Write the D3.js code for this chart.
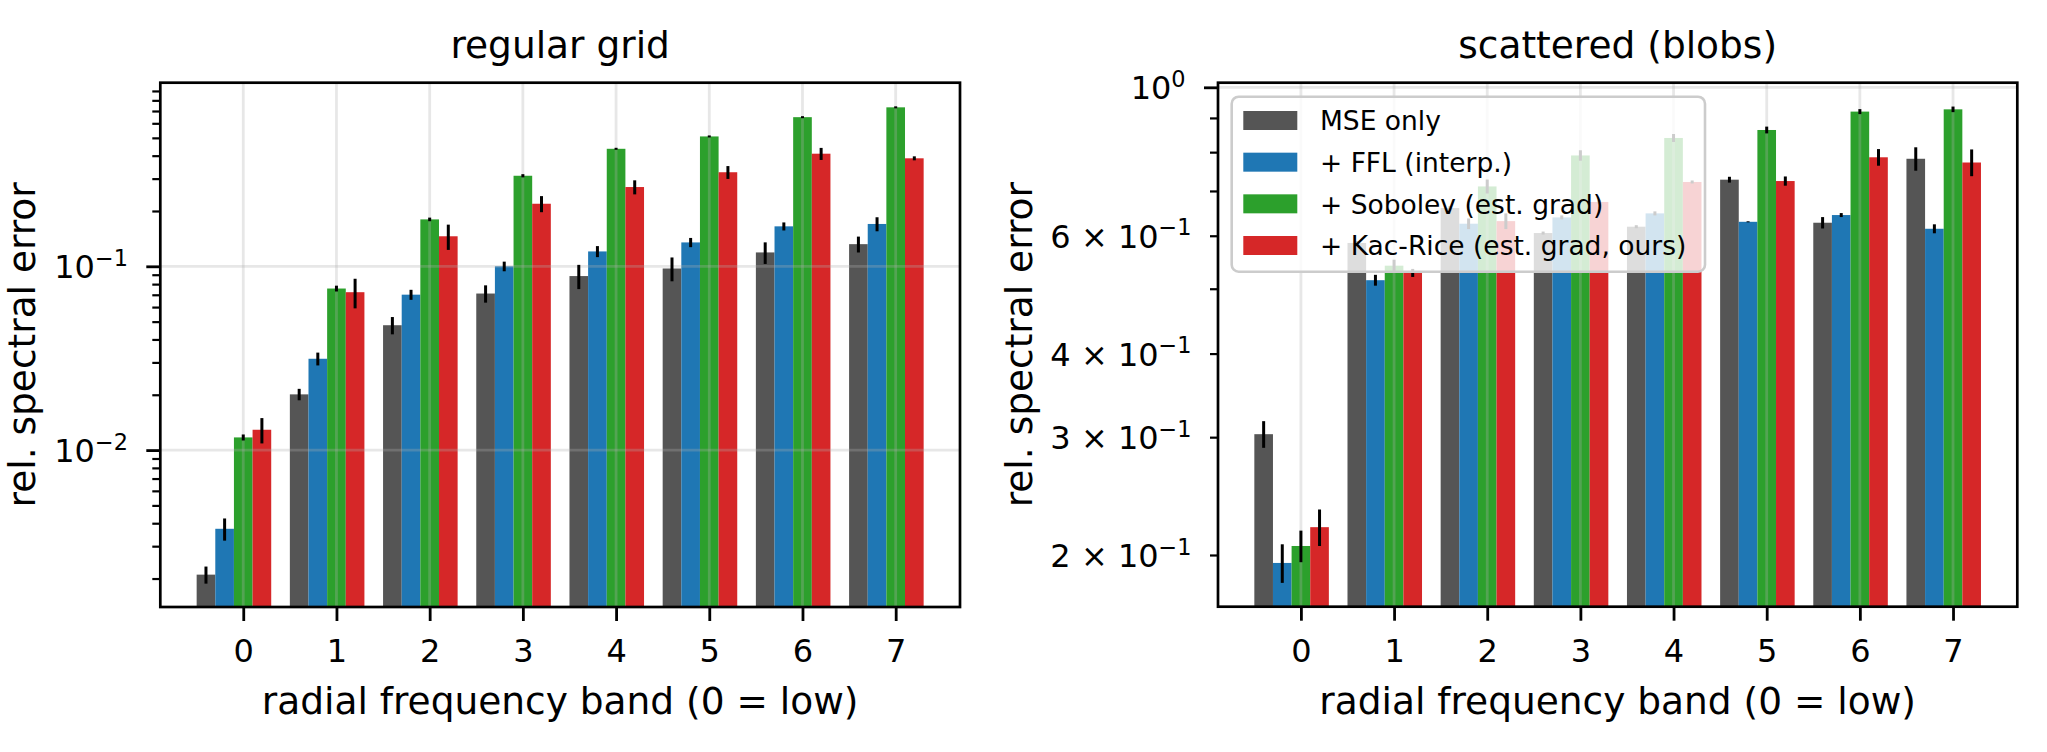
<!DOCTYPE html>
<html><head><meta charset="utf-8">
<script src="https://cdn.jsdelivr.net/npm/d3@7"></script>
<style>
body{margin:0;background:#fff;}
text{font-family:"DejaVu Sans","Noto Sans",sans-serif;fill:#000;}
</style>
</head><body>
<svg id="chart" width="2047" height="752"></svg>
<script>
// ---------------- data ----------------
const bands = [0, 1, 2, 3, 4, 5, 6, 7];
const bandLabels = ["0", "1", "2", "3", "4", "5", "6", "7"];
const seriesNames = ["MSE only", "+ FFL (interp.)", "+ Sobolev (est. grad)", "+ Kac-Rice (est. grad, ours)"];
const seriesColors = ["#555555", "#1f77b4", "#2ca02c", "#d62728"];

// panel 1: regular grid
const gridMse    = [0.0021, 0.0201, 0.0478, 0.0711, 0.0885, 0.0973, 0.119, 0.132];
const gridFfl    = [0.00373, 0.0314, 0.0701, 0.100, 0.1205, 0.1349, 0.165, 0.170];
const gridSob    = [0.01172, 0.0757, 0.180, 0.311, 0.436, 0.509, 0.648, 0.733];
const gridKac    = [0.0129, 0.0723, 0.1457, 0.219, 0.270, 0.325, 0.410, 0.387];
const gridMseErr = [0.000224, 0.00144, 0.00516, 0.00768, 0.01334, 0.01442, 0.016, 0.0131];
const gridFflErr = [0.000515, 0.00252, 0.0044, 0.00603, 0.00832, 0.00779, 0.0083, 0.0149];
const gridSobErr = [0.00044, 0.00276, 0.00407, 0.00625, 0.0055, 0.0064, 0.0081, 0.0092];
const gridKacErr = [0.00203, 0.01326, 0.02287, 0.022, 0.0237, 0.0261, 0.0309, 0.0097];

// panel 2: scattered (blobs)
const blobMse    = [0.3031, 0.5853, 0.660, 0.6056, 0.619, 0.7277, 0.6275, 0.782];
const blobFfl    = [0.1946, 0.5149, 0.6254, 0.6391, 0.648, 0.6295, 0.6443, 0.6146];
const blobSob    = [0.2063, 0.5413, 0.711, 0.791, 0.840, 0.8634, 0.9198, 0.927];
const blobKac    = [0.2201, 0.528, 0.631, 0.674, 0.722, 0.7243, 0.786, 0.772];
const blobMseErr = [0.0139, 0.004, 0.0046, 0.0031, 0.0032, 0.0073, 0.0123, 0.0315];
const blobFflErr = [0.0129, 0.0096, 0.0114, 0.0044, 0.0045, 0.0011, 0.0044, 0.0095];
const blobSobErr = [0.0112, 0.0112, 0.0171, 0.0142, 0.0116, 0.0101, 0.0079, 0.0089];
const blobKacErr = [0.0138, 0.0073, 0.017, 0.0046, 0.0037, 0.0115, 0.0225, 0.0355];

// axis ticks
const gridMajorTicks = [0.01, 0.1];
const gridMinorTicks = [0.002,0.003,0.004,0.005,0.006,0.007,0.008,0.009,
                        0.02,0.03,0.04,0.05,0.06,0.07,0.08,0.09,
                        0.2,0.3,0.4,0.5,0.6,0.7,0.8,0.9];
const gridLabeledMinor = [];
const blobMajorTicks = [1];
const blobMinorTicks = [0.2,0.3,0.4,0.5,0.6,0.7,0.8,0.9];
const blobLabeledMinor = [0.2, 0.3, 0.4, 0.6];

const titles = ["regular grid", "scattered (blobs)"];
const xLabel = "radial frequency band (0 = low)";
const yLabel = "rel. spectral error";

// ---------------- layout ----------------
const W = 2047, H = 752;
const barWidth = 0.2;
const xDomain = [-0.89, 7.69];
const TICK_FS = 32, LABEL_FS = 37.5, LEGEND_FS = 26.5;
const svg = d3.select("#chart");
svg.append("rect").attr("width", W).attr("height", H).attr("fill", "#fff");

const panels = [
  { left: 160.3, right: 960, top: 82.7, bottom: 607, yDomain: [0.0014, 0.998],
    means: [gridMse, gridFfl, gridSob, gridKac], errs: [gridMseErr, gridFflErr, gridSobErr, gridKacErr],
    major: gridMajorTicks, minor: gridMinorTicks, labeledMinor: gridLabeledMinor,
    title: titles[0], ylabelX: 35, legend: false },
  { left: 1218, right: 2017.3, top: 82.7, bottom: 606.7, yDomain: [0.1674, 1.016],
    means: [blobMse, blobFfl, blobSob, blobKac], errs: [blobMseErr, blobFflErr, blobSobErr, blobKacErr],
    major: blobMajorTicks, minor: blobMinorTicks, labeledMinor: blobLabeledMinor,
    title: titles[1], ylabelX: 1031.7, legend: true }
];

function sciParts(v) {
  const e = Math.floor(Math.log10(v) + 1e-9);
  const m = Math.round(v / Math.pow(10, e));
  return { m: m, e: e };
}

function writeSciLabel(textSel, v, fs) {
  const p = sciParts(v);
  const main = (p.m === 1 ? "" : p.m + " \u00d7 ") + "10";
  const expStr = (p.e < 0 ? "\u2212" : "") + Math.abs(p.e);
  textSel.text(null);
  textSel.append("tspan").text(main);
  textSel.append("tspan").attr("font-size", fs * 0.7).attr("dy", -fs * 0.39).text(expStr);
}

panels.forEach(cfg => {
  const g = svg.append("g");
  const x = d3.scaleLinear().domain(xDomain).range([cfg.left, cfg.right]);
  const y = d3.scaleLog().domain(cfg.yDomain).range([cfg.bottom, cfg.top]);

  // bars
  cfg.means.forEach((vals, i) => {
    g.append("g").selectAll("rect").data(bands).enter().append("rect")
      .attr("x", d => x(d + (i - 2) * barWidth - barWidth / 2))
      .attr("width", x(barWidth) - x(0))
      .attr("y", (d, j) => y(vals[j]))
      .attr("height", (d, j) => cfg.bottom - y(vals[j]))
      .attr("fill", seriesColors[i]);
  });

  // grid (above bars)
  const grid = g.append("g").attr("stroke", "#b0b0b0").attr("stroke-opacity", 0.3).attr("stroke-width", 2.8);
  grid.selectAll("line.v").data(bands).enter().append("line")
    .attr("x1", d => x(d)).attr("x2", d => x(d))
    .attr("y1", cfg.top).attr("y2", cfg.bottom);
  grid.selectAll("line.h").data(cfg.major).enter().append("line")
    .attr("x1", cfg.left).attr("x2", cfg.right)
    .attr("y1", d => y(d)).attr("y2", d => y(d));

  // error bars
  cfg.means.forEach((vals, i) => {
    const errs = cfg.errs[i];
    g.append("g").selectAll("line").data(bands).enter().append("line")
      .attr("x1", d => x(d + (i - 2) * barWidth)).attr("x2", d => x(d + (i - 2) * barWidth))
      .attr("y1", (d, j) => y(Math.max(vals[j] - errs[j], cfg.yDomain[0])))
      .attr("y2", (d, j) => y(vals[j] + errs[j]))
      .attr("stroke", "#000").attr("stroke-width", 3);
  });

  // x axis
  const xAxis = d3.axisBottom(x).tickValues(bands).tickFormat((d, i) => bandLabels[i])
    .tickSize(14).tickPadding(8).tickSizeOuter(0);
  const xg = g.append("g").attr("transform", `translate(0,${cfg.bottom})`).call(xAxis);
  xg.select(".domain").remove();
  xg.selectAll(".tick line").attr("stroke", "#000").attr("stroke-width", 2.8);
  xg.selectAll(".tick text").attr("font-size", TICK_FS).attr("font-family", "DejaVu Sans")
    .attr("dy", null).attr("y", 55);

  // y axis minor ticks
  const yMinor = d3.axisLeft(y).tickValues(cfg.minor).tickSize(8).tickSizeOuter(0).tickFormat("");
  const ymg = g.append("g").attr("transform", `translate(${cfg.left},0)`).call(yMinor);
  ymg.select(".domain").remove();
  ymg.selectAll(".tick line").attr("stroke", "#000").attr("stroke-width", 2.2);
  ymg.selectAll(".tick text").remove();
  ymg.selectAll(".tick").filter(d => cfg.labeledMinor.some(v => Math.abs(v - d) < 1e-9))
    .append("text").attr("x", -8 - 18.4).attr("y", TICK_FS * 0.36)
    .attr("text-anchor", "end").attr("font-size", TICK_FS)
    .each(function(d) { writeSciLabel(d3.select(this), d, TICK_FS); });

  // y axis major ticks
  const yMajor = d3.axisLeft(y).tickValues(cfg.major).tickSize(14).tickSizeOuter(0).tickFormat("");
  const yMg = g.append("g").attr("transform", `translate(${cfg.left},0)`).call(yMajor);
  yMg.select(".domain").remove();
  yMg.selectAll(".tick line").attr("stroke", "#000").attr("stroke-width", 2.8);
  yMg.selectAll(".tick text").remove();
  yMg.selectAll(".tick").append("text").attr("x", -14 - 18.4).attr("y", TICK_FS * 0.36)
    .attr("text-anchor", "end").attr("font-size", TICK_FS)
    .each(function(d) { writeSciLabel(d3.select(this), d, TICK_FS); });

  // spines
  g.append("rect").attr("x", cfg.left).attr("y", cfg.top)
    .attr("width", cfg.right - cfg.left).attr("height", cfg.bottom - cfg.top)
    .attr("fill", "none").attr("stroke", "#000").attr("stroke-width", 2.7);

  // title and labels
  const cx = (cfg.left + cfg.right) / 2;
  g.append("text").attr("x", cx).attr("y", 58).attr("text-anchor", "middle")
    .attr("font-size", LABEL_FS).text(cfg.title);
  g.append("text").attr("x", cx).attr("y", 714).attr("text-anchor", "middle")
    .attr("font-size", LABEL_FS).text(xLabel);
  g.append("text").attr("transform", `translate(${cfg.ylabelX},${(cfg.top + cfg.bottom) / 2}) rotate(-90)`)
    .attr("text-anchor", "middle").attr("font-size", LABEL_FS).text(yLabel);

  // legend
  if (cfg.legend) {
    const lg = g.append("g");
    lg.append("rect").attr("x", 1231.7).attr("y", 96.7).attr("width", 1705 - 1231.7).attr("height", 271.7 - 96.7)
      .attr("rx", 7).attr("ry", 7)
      .attr("fill", "#fff").attr("fill-opacity", 0.8)
      .attr("stroke", "#cccccc").attr("stroke-width", 2.6);
    const rowY = d3.scaleLinear().domain([0, 3]).range([120.5, 245.5]);
    const items = lg.selectAll("g.item").data(seriesNames).enter().append("g");
    items.append("rect").attr("x", 1243.3).attr("width", 54).attr("height", 19)
      .attr("y", (d, i) => rowY(i) - 9.5).attr("fill", (d, i) => seriesColors[i]);
    items.append("text").attr("x", 1320).attr("y", (d, i) => rowY(i) + 9.8)
      .attr("font-size", LEGEND_FS).text(d => d);
  }
});
</script>
</body></html>
